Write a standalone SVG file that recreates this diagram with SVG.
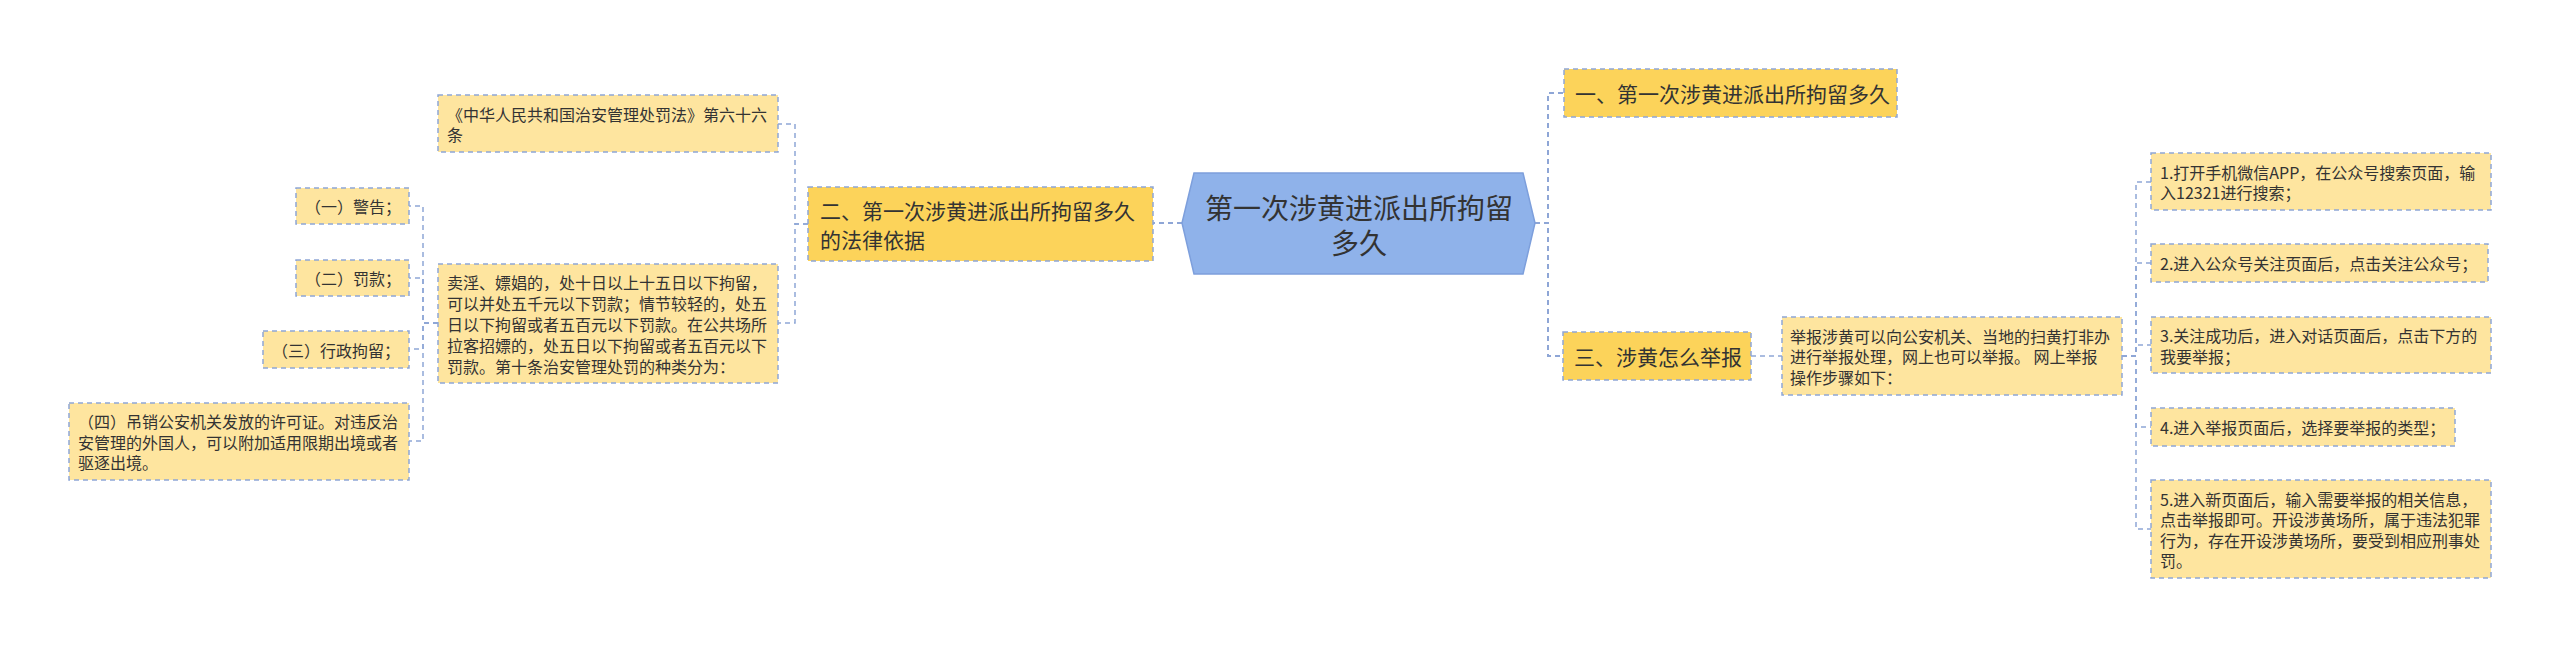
<svg xmlns="http://www.w3.org/2000/svg" width="2560" height="649" viewBox="0 0 2560 649">
<style>
text{font-family:"Noto Sans CJK SC","Noto Sans",sans-serif;fill:#333;dominant-baseline:central}
.root{fill:#8fb2ea;stroke:#7d9fdc;stroke-width:1.5}
.root-t{font-size:28px;text-anchor:middle}
.l1 rect{fill:#fcd35a;stroke:#8ea6d6;stroke-width:1.5;stroke-dasharray:5,4}
.l1 text{font-size:21px}
.leaf rect{fill:#fee59f;stroke:#8ea6d6;stroke-width:1.5;stroke-dasharray:5,4}
.leaf text{font-size:16px}
.conn path{fill:none;stroke:#8ea6d6;stroke-width:1.5;stroke-dasharray:5,4}
.conn path.main{stroke-width:2}
</style>
<rect width="2560" height="649" fill="#fff"/>
<g id="connectors" class="conn">
<path class="main" d="M1182,223 H1153"/>
<path class="main" d="M1535,223 H1548 V93 H1564"/>
<path class="main" d="M1535,223 H1548 V356 H1563"/>
<path d="M808,224 H795 V124 H778"/>
<path d="M808,224 H795 V323 H778"/>
<path d="M438,323 H423 V206 H409"/>
<path d="M438,323 H423 V278 H409"/>
<path d="M438,323 H423 V349 H409"/>
<path d="M438,323 H423 V441 H409"/>
<path d="M1751,356 H1782"/>
<path d="M2122,356 H2136 V182 H2151"/>
<path d="M2122,356 H2136 V263 H2151"/>
<path d="M2122,356 H2136 V345 H2151"/>
<path d="M2122,356 H2136 V427 H2151"/>
<path d="M2122,356 H2136 V529 H2151"/>
</g>
<g id="root">
<polygon class="root" points="1182,223 1194,173 1523,173 1535,223 1523,274 1194,274"/>
<text class="root-t" x="1359" y="207">第一次涉黄进派出所拘留</text>
<text class="root-t" x="1359" y="242">多久</text>
</g>
<g id="n1" class="l1">
<rect x="1564" y="69" width="333" height="48"/>
<text x="1575" y="93">一、第一次涉黄进派出所拘留多久</text>
</g>
<g id="n2" class="l1">
<rect x="808" y="187" width="345" height="74"/>
<text x="820" y="210">二、第一次涉黄进派出所拘留多久</text>
<text x="820" y="239">的法律依据</text>
</g>
<g id="n3" class="l1">
<rect x="1563" y="332" width="188" height="48"/>
<text x="1574" y="356">三、涉黄怎么举报</text>
</g>
<g id="n2a" class="leaf">
<rect x="438" y="95" width="340" height="57"/>
<text x="447" y="114">《中华人民共和国治安管理处罚法》第六十六</text>
<text x="447" y="134">条</text>
</g>
<g id="n2b" class="leaf">
<rect x="438" y="264" width="340" height="119"/>
<text x="447" y="282">卖淫、嫖娼的，处十日以上十五日以下拘留，</text>
<text x="447" y="303">可以并处五千元以下罚款；情节较轻的，处五</text>
<text x="447" y="324">日以下拘留或者五百元以下罚款。在公共场所</text>
<text x="447" y="345">拉客招嫖的，处五日以下拘留或者五百元以下</text>
<text x="447" y="366">罚款。第十条治安管理处罚的种类分为：</text>
</g>
<g id="n2b1" class="leaf">
<rect x="296" y="188" width="113" height="36"/>
<text x="305" y="206">（一）警告；</text>
</g>
<g id="n2b2" class="leaf">
<rect x="296" y="260" width="113" height="36"/>
<text x="305" y="278">（二）罚款；</text>
</g>
<g id="n2b3" class="leaf">
<rect x="263" y="331" width="146" height="37"/>
<text x="272" y="349.5">（三）行政拘留；</text>
</g>
<g id="n2b4" class="leaf">
<rect x="69" y="403" width="340" height="77"/>
<text x="78" y="421">（四）吊销公安机关发放的许可证。对违反治</text>
<text x="78" y="441.5">安管理的外国人，可以附加适用限期出境或者</text>
<text x="78" y="462">驱逐出境。</text>
</g>
<g id="n3a" class="leaf">
<rect x="1782" y="317" width="340" height="78"/>
<text x="1790" y="335.5">举报涉黄可以向公安机关、当地的扫黄打非办</text>
<text x="1790" y="356">进行举报处理，网上也可以举报。 网上举报</text>
<text x="1790" y="376.5">操作步骤如下：</text>
</g>
<g id="s1" class="leaf">
<rect x="2151" y="153" width="340" height="57"/>
<text x="2160" y="171.5">1.打开手机微信APP，在公众号搜索页面，输</text>
<text x="2160" y="192">入12321进行搜索；</text>
</g>
<g id="s2" class="leaf">
<rect x="2151" y="244" width="337" height="38"/>
<text x="2160" y="263">2.进入公众号关注页面后，点击关注公众号；</text>
</g>
<g id="s3" class="leaf">
<rect x="2151" y="317" width="340" height="56"/>
<text x="2160" y="335">3.关注成功后，进入对话页面后，点击下方的</text>
<text x="2160" y="355.5">我要举报；</text>
</g>
<g id="s4" class="leaf">
<rect x="2151" y="408" width="304" height="38"/>
<text x="2160" y="427">4.进入举报页面后，选择要举报的类型；</text>
</g>
<g id="s5" class="leaf">
<rect x="2151" y="480" width="340" height="98"/>
<text x="2160" y="498.5">5.进入新页面后，输入需要举报的相关信息，</text>
<text x="2160" y="519">点击举报即可。开设涉黄场所，属于违法犯罪</text>
<text x="2160" y="539.5">行为，存在开设涉黄场所，要受到相应刑事处</text>
<text x="2160" y="560">罚。</text>
</g>
</svg>
